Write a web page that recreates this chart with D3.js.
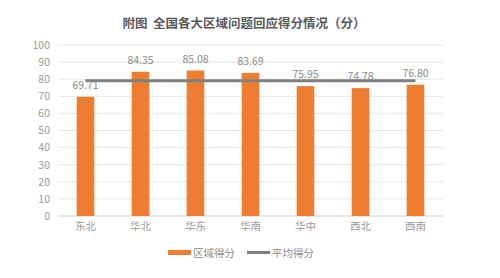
<!DOCTYPE html>
<html>
<head>
<meta charset="utf-8">
<script src="https://cdn.jsdelivr.net/npm/d3@7"></script>
<style>
  body { margin: 0; background: #fff; }
  text { font-family: "Noto Sans CJK SC", "Noto Sans", sans-serif; }
</style>
</head>
<body>
<div id="container"></div>
<script>
var regions = ['东北', '华北', '华东', '华南', '华中', '西北', '西南']
var scores = [69.71, 84.35, 85.08, 83.69, 75.95, 74.78, 76.80]
var average = [79.1, 79.1, 79.1, 79.1, 79.1, 79.1, 79.1]
var yTicks = [0, 10, 20, 30, 40, 50, 60, 70, 80, 90, 100]

var WIDTH = 500
var HEIGHT = 278

var svg = d3.select('div#container').append('svg')
  .attr('width', WIDTH)
  .attr('height', HEIGHT)

var x = d3.scaleBand().domain(regions).range([58, 443]).paddingInner(0.68).paddingOuter(0.34)
var y = d3.scaleLinear().domain([0, 100]).range([216, 45])

svg.append('text')
  .attr('x', 244).attr('y', 28)
  .attr('text-anchor', 'middle')
  .attr('font-size', 12.5).attr('font-weight', 'bold')
  .attr('fill', '#595959')
  .style('white-space', 'pre')
  .text('附图  全国各大区域问题回应得分情况（分）')

// grid
svg.selectAll('line.grid').data(yTicks).enter().append('line')
  .attr('x1', 58).attr('x2', 443)
  .attr('y1', function (d) { return y(d) }).attr('y2', function (d) { return y(d) })
  .attr('stroke', function (d) { return d === 0 ? '#d0d0d0' : '#e6e6e6' })
  .attr('stroke-width', 1)

var yAxis = svg.append('g')
  .attr('transform', 'translate(50,0)')
  .call(d3.axisLeft(y).tickValues(yTicks).tickSize(0).tickPadding(0))
yAxis.select('.domain').remove()
yAxis.selectAll('text').attr('fill', '#9a9a9a').attr('font-size', 10.5)

var xAxis = svg.append('g')
  .attr('transform', 'translate(0,216)')
  .call(d3.axisBottom(x).tickSize(0).tickPadding(7))
xAxis.select('.domain').remove()
xAxis.selectAll('text').attr('fill', '#9a9a9a').attr('font-size', 10.5)

svg.selectAll('rect.bar').data(scores).enter().append('rect')
  .attr('x', function (d, i) { return x(regions[i]) })
  .attr('y', function (d) { return y(d) })
  .attr('width', x.bandwidth())
  .attr('height', function (d) { return y(0) - y(d) })
  .attr('fill', '#ED7D31')

var line = d3.line()
  .x(function (d, i) { return x(regions[i]) + x.bandwidth() / 2 })
  .y(function (d) { return y(d) })

svg.append('path')
  .datum(average)
  .attr('d', line)
  .attr('fill', 'none')
  .attr('stroke', '#7f7f7f')
  .attr('stroke-width', 3)

svg.selectAll('text.lbl').data(scores).enter().append('text')
  .attr('x', function (d, i) { return x(regions[i]) + x.bandwidth() / 2 })
  .attr('y', function (d) { return y(d) - 8 })
  .attr('text-anchor', 'middle')
  .attr('font-size', 10.5)
  .attr('fill', '#8a8a8a')
  .text(function (d) { return d.toFixed(2) })

// legend
var legend = svg.append('g')
legend.append('rect').attr('x', 168).attr('y', 250).attr('width', 23).attr('height', 5).attr('fill', '#ED7D31')
legend.append('text').attr('x', 193).attr('y', 257).attr('font-size', 10.5).attr('fill', '#8c8c8c').text('区域得分')
legend.append('line').attr('x1', 247).attr('x2', 270).attr('y1', 252.5).attr('y2', 252.5)
  .attr('stroke', '#7f7f7f').attr('stroke-width', 3)
legend.append('text').attr('x', 272).attr('y', 257).attr('font-size', 10.5).attr('fill', '#8c8c8c').text('平均得分')
</script>
</body>
</html>
